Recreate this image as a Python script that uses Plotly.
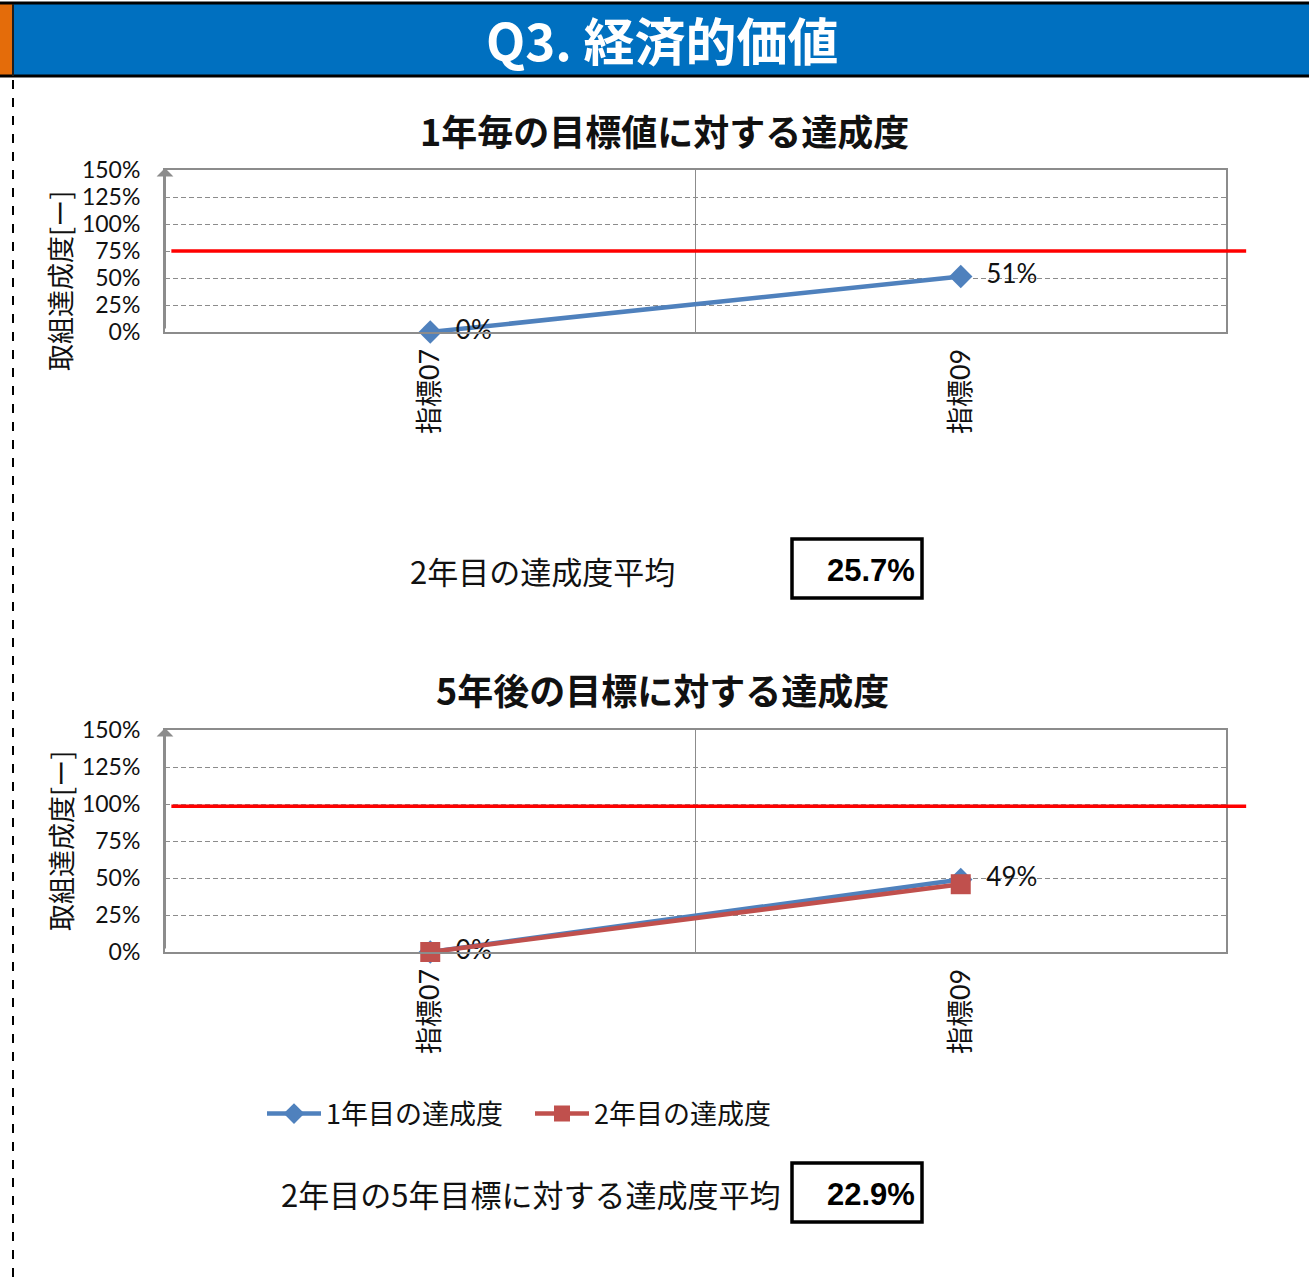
import plotly.graph_objects as go

# ---- data ----
categories = ["指標07", "指標09"]
annual_rate = [0.0, 0.514]          # 1年毎の目標値に対する達成度
year1_rate = [0.0, 0.49]            # 1年目の達成度 (5年後の目標に対する)
year2_rate = [0.0, 0.458]           # 2年目の達成度 (5年後の目標に対する)
annual_target = 0.75
five_year_target = 0.985
y_ticks = [0, 0.25, 0.5, 0.75, 1.0, 1.25, 1.5]

W, H = 1309, 1279
BLUE = "#4F81BD"
RED = "#C0504D"
GRID = "#8C8C8C"
CJK = "Noto Sans CJK JP"
NUM = "Lato, Noto Sans CJK JP"


def px(x):
    return x / W


def py(y):
    return 1 - y / H


def pct_labels(values):
    return [f"  {v:.0%}" for v in values]


fig = go.Figure()

# top chart: single series
fig.add_trace(go.Scatter(
    x=categories, y=annual_rate, mode="lines+markers+text",
    line=dict(color=BLUE, width=4.5),
    marker=dict(symbol="diamond", size=18, color=BLUE),
    text=pct_labels(annual_rate), textposition="middle right",
    textfont=dict(family=NUM, size=26, color="#111"),
    showlegend=False, xaxis="x", yaxis="y", cliponaxis=False,
))

# bottom chart: two series
fig.add_trace(go.Scatter(
    x=categories, y=year1_rate, mode="lines+markers+text", name="1年目の達成度",
    line=dict(color=BLUE, width=4.5),
    marker=dict(symbol="diamond", size=18, color=BLUE),
    text=pct_labels(year1_rate), textposition="middle right",
    textfont=dict(family=NUM, size=26, color="#111"),
    xaxis="x2", yaxis="y2", cliponaxis=False,
))
fig.add_trace(go.Scatter(
    x=categories, y=year2_rate, mode="lines+markers", name="2年目の達成度",
    line=dict(color=RED, width=4.5),
    marker=dict(symbol="square", size=20, color=RED),
    xaxis="x2", yaxis="y2", cliponaxis=False,
))

xdom = [px(165), px(1226)]
axis_x = dict(
    type="category", range=[-0.5, 1.5], domain=xdom, automargin=False,
    showgrid=False, showline=True, linecolor=GRID, linewidth=2, mirror=True,
    tickangle=-90, tickfont=dict(family=NUM, size=27, color="#111"),
    ticks="", ticklabelstandoff=4, fixedrange=True,
)
axis_y = dict(
    range=[0, 1.5], tickvals=y_ticks, tickformat=".0%", automargin=False,
    showgrid=True, gridcolor=GRID, griddash="5px,3px", gridwidth=1,
    showline=True, linecolor=GRID, linewidth=2, mirror=True,
    tickfont=dict(family=NUM, size=23, color="#111"),
    ticks="", ticklabelstandoff=18, zeroline=False, fixedrange=True,
)

fig.update_layout(
    width=W, height=H, margin=dict(l=0, r=0, t=0, b=0, autoexpand=False),
    paper_bgcolor="white", plot_bgcolor="white",
    xaxis=dict(axis_x, anchor="y"),
    yaxis=dict(axis_y, domain=[py(332), py(170)], anchor="x"),
    xaxis2=dict(axis_x, anchor="y2"),
    yaxis2=dict(axis_y, domain=[py(952), py(730)], anchor="x2"),
    legend=dict(
        orientation="h", x=px(262), y=py(1114), xanchor="left", yanchor="middle",
        font=dict(family=CJK, size=27, color="#111"),
        itemwidth=54, entrywidth=199, entrywidthmode="pixels",
        bgcolor="rgba(0,0,0,0)", tracegroupgap=0,
    ),
)

shapes = []
# header band
shapes.append(dict(type="rect", xref="paper", yref="paper", x0=0, x1=px(13), y0=py(76), y1=py(4),
                   fillcolor="#E46C0A", line=dict(width=0), layer="below"))
shapes.append(dict(type="rect", xref="paper", yref="paper", x0=px(13), x1=1, y0=py(76), y1=py(4),
                   fillcolor="#0070C0", line=dict(width=0), layer="below"))
for yy in (3, 76):
    shapes.append(dict(type="line", xref="paper", yref="paper", x0=0, x1=1, y0=py(yy), y1=py(yy),
                       line=dict(color="black", width=3)))
shapes.append(dict(type="line", xref="paper", yref="paper", x0=px(13), x1=px(13), y0=py(4), y1=py(76),
                   line=dict(color="#1F1F1F", width=2)))
# dashed page edge
shapes.append(dict(type="line", xref="paper", yref="paper", x0=px(13), x1=px(13), y0=py(80), y1=0,
                   line=dict(color="black", width=2, dash="dash")))

for xa, ya, target in (("x", "y", annual_target), ("x2", "y2", five_year_target)):
    # category divider
    shapes.append(dict(type="line", xref=xa, yref=f"{ya} domain", x0=0.5, x1=0.5, y0=0, y1=1,
                       line=dict(color=GRID, width=1), layer="below"))
    # target line
    shapes.append(dict(type="line", xref=f"{xa} domain", yref=ya, x0=0.006, x1=1.019,
                       y0=target, y1=target, line=dict(color="#FF0000", width=3.5)))

# value boxes
for top in (539, 1163):
    shapes.append(dict(type="rect", xref="paper", yref="paper", x0=px(792), x1=px(922),
                       y0=py(top + 59), y1=py(top), line=dict(color="black", width=3.5),
                       fillcolor="white"))
fig.update_layout(shapes=shapes)

annual_avg = sum(annual_rate) / len(annual_rate)
year2_avg = sum(year2_rate) / len(year2_rate)


def label(text, x, y, size, xanchor="center", family=CJK, color="#111", angle=0):
    return dict(text=text, x=px(x), y=py(y), xref="paper", yref="paper",
                xanchor=xanchor, yanchor="middle", textangle=angle, showarrow=False,
                font=dict(family=family, size=size, color=color))


ann = [
    label("<b>Q3. 経済的価値</b>", 663, 39, 51, color="white"),
    label("<b>1年毎の目標値に対する達成度</b>", 664, 130, 36),
    label("<b>5年後の目標に対する達成度</b>", 663, 689, 36),
    label("2年目の達成度平均", 408, 570, 31, xanchor="left"),
    label("2年目の5年目標に対する達成度平均", 279, 1193, 31, xanchor="left"),
]
for yc in (281, 841):
    ann.append(label("取組達成度[ー]", 60, yc, 27, angle=-90))
# axis arrows
for ytop, ybot in ((170, 332), (730, 952)):
    ann.append(dict(x=px(165), y=py(ytop - 2), xref="paper", yref="paper", ax=0, ay=ybot - ytop,
                    showarrow=True, arrowhead=1, arrowsize=1.4, arrowwidth=2, arrowcolor=GRID, text=""))
for yc, val in ((570, annual_avg), (1194, year2_avg)):
    ann.append(label(f"<b>{val:.1%}</b>", 917, yc, 31, xanchor="right",
                     family="Liberation Sans Narrow, Liberation Sans", color="black"))
fig.update_layout(annotations=ann)

fig.write_html("out.html")
